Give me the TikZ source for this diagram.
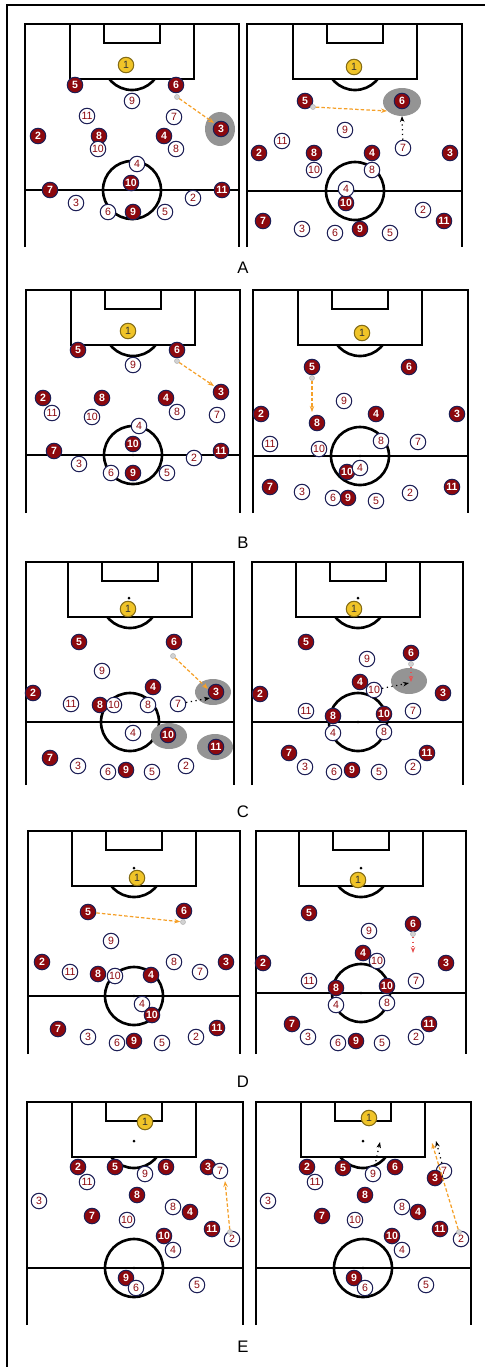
\documentclass[tikz,border=0pt]{standalone}
\usepackage{fontspec}
\setmainfont{Liberation Sans}
\usetikzlibrary{arrows.meta}
\definecolor{clubred}{RGB}{140,8,14}
\definecolor{rimblue}{RGB}{28,30,85}
\definecolor{keeper}{RGB}{240,196,40}
\definecolor{runorange}{RGB}{245,160,40}
\definecolor{runred}{RGB}{230,80,80}
% half pitch: left, right, top, centre x, halfway offset
\newcommand{\pitch}[5]{%
  \draw[pline] (#1,#3+223) -- (#1,#3) -- (#2,#3) -- (#2,#3+223);
  \draw[pline] (#1,#3+#5) -- (#2,#3+#5);
  \draw[pline] (#4-62,#3) rectangle (#4+62,#3+55);
  \draw[pline] (#4-28,#3) rectangle (#4+28,#3+19);
  \draw[pline] (#4,#3+#5) circle (29);
  \begin{scope}
    \clip (#1,#3+55.7) rectangle (#2,#3+100);
    \draw[pline] (#4,#3+37) circle (29);
  \end{scope}
  \fill (#4,#3+#5) circle (1.3);}
\tikzset{
  pline/.style={line width=1.5pt},
  redp/.style={circle, fill=clubred, draw=rimblue, line width=0.6pt, minimum size=0.31cm,
    inner sep=0pt, text=white, font=\fontsize{6}{7}\selectfont\bfseries},
  whitep/.style={circle, fill=white, draw=rimblue, line width=0.6pt, minimum size=0.31cm,
    inner sep=0pt, text=clubred, font=\fontsize{6}{7}\selectfont},
  gkp/.style={circle, fill=keeper, draw=keeper!55!black, line width=0.6pt, minimum size=0.31cm,
    inner sep=0pt, text=black!80, font=\fontsize{6}{7}\selectfont},
  balldot/.style={circle, fill=gray!35, draw=gray!60, line width=0.3pt, minimum size=0.1cm, inner sep=0pt},
  zone/.style={fill=black!42},
  orun/.style={runorange, dash pattern=on 2pt off 1.2pt, line width=0.7pt, -{Stealth[length=1.2mm]}},
  brun/.style={black, dotted, line width=0.7pt, -{Stealth[length=1.2mm]}},
  rrun/.style={runred, dotted, line width=0.7pt, -{Stealth[length=1.2mm]}},
  lbl/.style={font=\fontsize{9.5}{11}\selectfont},
}
\begin{document}
\begin{tikzpicture}[x=0.02cm, y=-0.02cm]
\useasboundingbox (0,0) rectangle (485,1367);
\draw[line width=1.1pt] (7,1367) -- (7,5) -- (485,5);
%---- A left
\pitch{25}{239}{24}{132}{166}
\fill[zone] (220,129) ellipse [x radius=15, y radius=17];
\foreach \n/\x/\y in {5/75/85, 6/176/85, 3/221/129, 2/38/136, 8/99/136, 4/164/136, 10/131/183, 7/50/190, 11/222/190, 9/133/212}
  \node[redp] (aLr\n) at (\x,\y) {\n};
\foreach \n/\x/\y in {9/132/101, 11/87/116, 7/174/117, 10/98/149, 8/176/149, 4/137/164, 2/193/198, 3/76/203, 6/108/212, 5/165/212}
  \node[whitep] (aLw\n) at (\x,\y) {\n};
\node[gkp] (aLgk) at (126,65) {1};
\node[balldot] (aLball) at (177,97) {};
\coordinate (aLend) at (214,123);
\draw[orun] (aLball) -- (aLend);
%---- A right
\pitch{247}{462}{24}{355}{167}
\fill[zone] (402,102) ellipse [x radius=19, y radius=14];
\foreach \n/\x/\y in {5/305/101, 6/402/101, 2/259/153, 8/314/153, 4/372/153, 3/450/153, 10/346/203, 7/263/221, 11/444/221, 9/360/229}
  \node[redp] (aRr\n) at (\x,\y) {\n};
\foreach \n/\x/\y in {9/345/130, 11/282/141, 7/403/148, 10/314/170, 8/372/170, 4/346/189, 2/423/210, 3/302/229, 6/335/233, 5/390/233}
  \node[whitep] (aRw\n) at (\x,\y) {\n};
\node[gkp] (aRgk) at (354,67) {1};
\node[balldot] (aRball) at (313,107) {};
\coordinate (aRend) at (387,111);
\coordinate (aRtip) at (402,116);
\draw[orun] (aRball) -- (aRend);
\draw[brun] (aRw7) -- (aRtip);
\node[lbl] (labA) at (243,268) {A};
%---- B left
\pitch{26}{240}{290}{133}{165}
\foreach \n/\x/\y in {5/78/350, 6/177/350, 3/221/392, 2/43/398, 8/102/398, 4/166/398, 10/133/444, 7/54/451, 11/221/451, 9/133/473}
  \node[redp] (bLr\n) at (\x,\y) {\n};
\foreach \n/\x/\y in {9/133/365, 11/52/413, 10/92/417, 8/177/412, 7/217/415, 4/139/426, 2/194/458, 3/79/464, 6/111/473, 5/167/473}
  \node[whitep] (bLw\n) at (\x,\y) {\n};
\node[gkp] (bLgk) at (128,331) {1};
\node[balldot] (bLball) at (177,361) {};
\coordinate (bLend) at (214,386);
\draw[orun] (bLball) -- (bLend);
%---- B right
\pitch{253}{468}{290}{360}{166}
\foreach \n/\x/\y in {5/312/367, 6/409/367, 2/261/414, 4/376/414, 3/457/414, 8/317/423, 10/347/472, 7/270/487, 11/452/487, 9/348/498}
  \node[redp] (bRr\n) at (\x,\y) {\n};
\foreach \n/\x/\y in {9/344/401, 8/381/441, 7/418/442, 11/270/444, 10/319/449, 4/360/468, 3/302/492, 2/410/493, 6/333/498, 5/376/501}
  \node[whitep] (bRw\n) at (\x,\y) {\n};
\node[gkp] (bRgk) at (362,333) {1};
\node[balldot] (bRball) at (312,378) {};
\coordinate (bRend) at (312,412);
\draw[orun] (bRball) -- (bRend);
\node[lbl] (labB) at (243,543) {B};
%---- C left
\pitch{26}{234}{562}{130}{160}
\fill (129,598) circle (1.5);
\fill[zone] (213,692) ellipse [x radius=18, y radius=13];
\fill[zone] (169,736) ellipse [x radius=18, y radius=13];
\fill[zone] (215,747) ellipse [x radius=18, y radius=13];
\foreach \n/\x/\y in {5/79/642, 6/174/642, 4/153/687, 2/33/693, 3/216/692, 8/100/705, 10/168/735, 11/216/747, 7/50/758, 9/126/770}
  \node[redp] (cLr\n) at (\x,\y) {\n};
\foreach \n/\x/\y in {9/102/671, 11/71/704, 10/114/705, 8/148/705, 7/178/704, 4/133/733, 3/78/766, 2/186/766, 6/108/772, 5/152/772}
  \node[whitep] (cLw\n) at (\x,\y) {\n};
\node[gkp] (cLgk) at (128,609) {1};
\node[balldot] (cLball) at (173,656) {};
\coordinate (cLend) at (208,689);
\coordinate (cLtip) at (210,698);
\draw[orun] (cLball) -- (cLend);
\draw[brun] (cLw7) -- (cLtip);
%---- C right
\pitch{252}{463}{562}{358}{160}
\fill (358,598) circle (1.5);
\fill[zone] (409,681) ellipse [x radius=18, y radius=13];
\foreach \n/\x/\y in {5/306/642, 6/411/653, 4/360/682, 2/260/694, 3/443/693, 8/333/716, 10/384/714, 7/289/753, 11/427/753, 9/352/770}
  \node[redp] (cRr\n) at (\x,\y) {\n};
\foreach \n/\x/\y in {9/367/659, 10/374/690, 11/306/711, 7/413/711, 4/333/733, 8/384/732, 3/305/767, 2/413/767, 6/334/772, 5/379/772}
  \node[whitep] (cRw\n) at (\x,\y) {\n};
\node[gkp] (cRgk) at (354,609) {1};
\node[balldot] (cRball) at (411,664) {};
\coordinate (cRend) at (411,682);
\coordinate (cRtip) at (409,683);
\draw[rrun] (cRball) -- (cRend);
\draw[brun] (cRw10) -- (cRtip);
\node[lbl] (labC) at (243,812) {C};
%---- D left
\pitch{28}{240}{831}{134}{165}
\fill (134,868) circle (1.5);
\foreach \n/\x/\y in {5/88/912, 6/184/911, 2/42/962, 3/226/962, 8/98/974, 4/151/975, 7/58/1029, 11/217/1028, 9/134/1041}
  \node[redp] (dLr\n) at (\x,\y) {\n};
\foreach \n/\x/\y in {9/111/941, 8/174/962, 11/70/972, 10/115/976, 7/200/972, 4/142/1004, 2/196/1037, 3/88/1037, 6/117/1043, 5/162/1043}
  \node[whitep] (dLw\n) at (\x,\y) {\n};
\node[redp] (dLr10) at (152,1015) {10};
\node[gkp] (dLgk) at (137,878) {1};
\node[balldot] (dLball) at (183,922) {};
\draw[orun] (dLr5) -- (dLball);
%---- D right
\pitch{256}{466}{831}{361}{162}
\fill (361,868) circle (1.5);
\foreach \n/\x/\y in {5/309/913, 6/413/924, 4/363/953, 2/263/963, 3/446/963, 8/336/988, 10/387/986, 7/292/1024, 11/429/1024, 9/356/1041}
  \node[redp] (dRr\n) at (\x,\y) {\n};
\foreach \n/\x/\y in {9/369/931, 10/377/961, 11/309/981, 7/416/981, 4/336/1005, 8/387/1003, 3/308/1037, 2/416/1037, 6/338/1043, 5/382/1043}
  \node[whitep] (dRw\n) at (\x,\y) {\n};
\node[gkp] (dRgk) at (358,880) {1};
\node[balldot] (dRball) at (413,934) {};
\coordinate (dRend) at (413,953);
\draw[rrun] (dRball) -- (dRend);
\node[lbl] (labD) at (243,1082) {D};
%---- E left
\pitch{27}{243}{1102}{134}{166}
\fill (134,1141) circle (1.5);
\foreach \n/\x/\y in {2/78/1167, 5/115/1167, 6/166/1167, 3/208/1167, 8/137/1195, 4/190/1212, 7/92/1216, 11/212/1229, 10/164/1236, 9/126/1278}
  \node[redp] (eLr\n) at (\x,\y) {\n};
\foreach \n/\x/\y in {7/220/1171, 9/145/1174, 11/87/1182, 3/39/1201, 8/173/1207, 10/127/1220, 2/232/1239, 4/173/1250, 6/136/1288, 5/197/1285}
  \node[whitep] (eLw\n) at (\x,\y) {\n};
\node[gkp] (eLgk) at (145,1122) {1};
\node[balldot] (eLball) at (230,1232) {};
\coordinate (eLend) at (225,1181);
\draw[orun] (eLball) -- (eLend);
%---- E right
\pitch{256}{471}{1102}{363}{166}
\fill (363,1141) circle (1.5);
\foreach \n/\x/\y in {2/307/1167, 5/343/1168, 6/395/1167, 8/365/1195, 4/418/1212, 7/322/1216, 11/440/1229, 10/392/1236, 9/354/1278}
  \node[redp] (eRr\n) at (\x,\y) {\n};
\foreach \n/\x/\y in {9/373/1174, 7/444/1171, 11/315/1182, 3/268/1201, 8/402/1207, 10/355/1220, 2/461/1239, 4/402/1250, 6/365/1288, 5/426/1285}
  \node[whitep] (eRw\n) at (\x,\y) {\n};
\node[redp] (eRr3) at (435,1178) {3};
\node[gkp] (eRgk) at (369,1118) {1};
\node[balldot] (eRball) at (459,1232) {};
\coordinate (eRend) at (432,1143);
\coordinate (eRtipA) at (380,1142);
\coordinate (eRtipB) at (436,1141);
\draw[orun] (eRball) -- (eRend);
\draw[brun] (eRw9) -- (eRtipA);
\draw[brun] (eRw7) -- (eRtipB);
\node[lbl] (labE) at (243,1347) {E};
\end{tikzpicture}
\end{document}
